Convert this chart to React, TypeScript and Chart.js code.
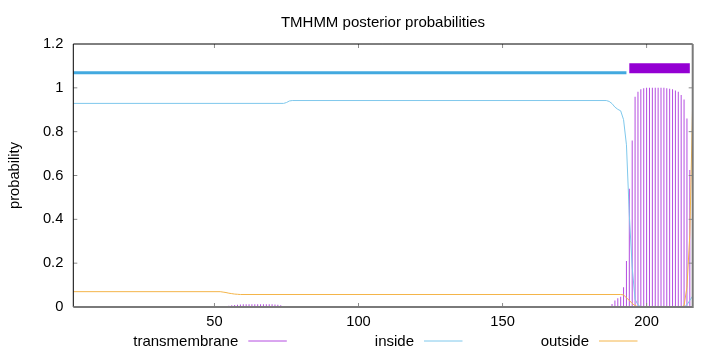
import React, { useEffect, useRef } from 'react';
import { Chart, registerables } from 'chart.js';

Chart.register(...registerables);

// ---------------- data ----------------
const TITLE = 'TMHMM posterior probabilities';
const Y_LABEL = 'probability';
const X_MIN = 1;
const X_MAX = 216;
const X_TICKS = [50, 100, 150, 200];
const Y_TICKS = [0, 0.2, 0.4, 0.6, 0.8, 1, 1.2];
const Y_TICK_LABELS = ['0', '0.2', '0.4', '0.6', '0.8', '1', '1.2'];
const LEGEND_LABELS = ['transmembrane', 'inside', 'outside'];

// transmembrane posterior (impulses), only non-zero residues
const TM_RESIDUES = [
  53, 54, 55, 56, 57, 58, 59, 60, 61, 62, 63, 64, 65, 66, 67, 68, 69, 70, 71, 72, 73, 74,
  187, 188, 189, 190, 191, 192, 193, 194, 195, 196, 197, 198, 199, 200, 201, 202, 203, 204,
  205, 206, 207, 208, 209, 210, 211, 212, 213, 214, 215, 216,
];
const TM_VALUES = [
  0.002, 0.004, 0.006, 0.008, 0.009, 0.01, 0.011, 0.012, 0.012, 0.012, 0.012, 0.012, 0.012,
  0.012, 0.012, 0.012, 0.012, 0.012, 0.011, 0.01, 0.008, 0.005,
  0.005, 0.014, 0.03, 0.04, 0.047, 0.09, 0.21, 0.54, 0.76, 0.959, 0.982, 0.993, 0.998, 1.0,
  1.0, 1.0, 1.0, 1.0, 1.0, 1.0, 0.998, 0.996, 0.993, 0.988, 0.982, 0.967, 0.947, 0.86, 0.625,
  0.01,
];

// inside posterior (line)
const INSIDE_RESIDUES = [1, 74, 75, 76, 77, 186, 187, 188, 189, 190, 191, 192, 193, 194, 195, 196, 197, 198, 213, 214, 215, 216];
const INSIDE_VALUES = [0.929, 0.929, 0.933, 0.94, 0.942, 0.942, 0.938, 0.928, 0.912, 0.902, 0.895, 0.855, 0.74, 0.42, 0.18, 0.035, 0.01, 0, 0, 0.01, 0.03, 0.05];

// outside posterior (line)
const OUTSIDE_RESIDUES = [1, 52, 53, 54, 55, 56, 57, 58, 59, 191, 192, 193, 194, 195, 196, 197, 198, 212, 213, 214, 215, 216];
const OUTSIDE_VALUES = [0.07, 0.07, 0.068, 0.066, 0.063, 0.061, 0.059, 0.058, 0.057, 0.057, 0.055, 0.042, 0.03, 0.016, 0.006, 0.001, 0, 0, 0.006, 0.09, 0.33, 0.94];

// predicted topology bars drawn above the curves
const REGION_INSIDE = [1, 193];
const REGION_INSIDE_LEVEL = 1.069;
const REGION_TM = [194, 215];
const REGION_TM_LEVEL = 1.089;

// ---------------- styles ----------------
const FONT = 'Liberation Sans';
const TM_COLOR = 'rgba(148,0,211,0.7)';
const TM_BOX_COLOR = '#9400d3';
const INSIDE_COLOR = '#7fc8ec';
const INSIDE_BAR_COLOR = '#42a9df';
const OUTSIDE_COLOR = '#f4b54a';

const decorPlugin = {
  id: 'decor',
  afterDraw(chart: any) {
    const { ctx, chartArea: a, scales } = chart;
    const xs = scales.x;
    const ys = scales.y;
    ctx.save();
    // inward tick marks
    ctx.strokeStyle = '#8a8a8a';
    ctx.lineWidth = 1;
    ctx.beginPath();
    for (const v of Y_TICKS) {
      if (v <= 0 || v >= 1.2) continue;
      const py = ys.getPixelForValue(v);
      ctx.moveTo(a.left, py);
      ctx.lineTo(a.left + 4, py);
      ctx.moveTo(a.right, py);
      ctx.lineTo(a.right - 4, py);
    }
    for (const v of X_TICKS) {
      const px = xs.getPixelForValue(v);
      ctx.moveTo(px, a.bottom);
      ctx.lineTo(px, a.bottom - 4);
      ctx.moveTo(px, a.top);
      ctx.lineTo(px, a.top + 4);
    }
    ctx.stroke();
    // frame
    ctx.strokeStyle = '#000';
    ctx.lineWidth = 1;
    ctx.beginPath();
    ctx.moveTo(a.left, a.bottom);
    ctx.lineTo(a.left, a.top);
    ctx.lineTo(a.right, a.top);
    ctx.stroke();
    ctx.strokeStyle = '#7a7a7a';
    ctx.lineWidth = 2;
    ctx.beginPath();
    ctx.moveTo(a.right, a.top);
    ctx.lineTo(a.right, a.bottom);
    ctx.lineTo(a.left, a.bottom);
    ctx.stroke();
    // title
    ctx.fillStyle = '#000';
    ctx.font = `15px "${FONT}"`;
    ctx.textAlign = 'center';
    ctx.textBaseline = 'alphabetic';
    ctx.fillText(TITLE, (a.left + a.right) / 2, 26.5);
    // legend (text followed by sample line)
    const lineStarts = [248.3, 424, 599];
    const colors = [TM_COLOR, INSIDE_COLOR, OUTSIDE_COLOR];
    ctx.font = `15px "${FONT}"`;
    ctx.textAlign = 'right';
    LEGEND_LABELS.forEach((label, i) => {
      const x0 = lineStarts[i];
      ctx.fillStyle = '#000';
      ctx.fillText(label, x0 - 10, 346);
      ctx.strokeStyle = colors[i];
      ctx.lineWidth = 1;
      ctx.beginPath();
      ctx.moveTo(x0, 341);
      ctx.lineTo(x0 + 38.5, 341);
      ctx.stroke();
    });
    ctx.restore();
  },
};

export default function App() {
  const ref = useRef<HTMLCanvasElement>(null);
  useEffect(() => {
    const canvas = ref.current;
    if (!canvas) return;
    const chart = new Chart(canvas, {
      type: 'line',
      data: {
        datasets: [
          {
            label: 'tm-region',
            data: REGION_TM.map((r) => ({ x: r, y: REGION_TM_LEVEL })),
            borderColor: TM_BOX_COLOR,
            borderWidth: 10,
            borderCapStyle: 'butt',
            pointRadius: 0,
            tension: 0,
            order: 0,
          },
          {
            label: 'inside-region',
            data: REGION_INSIDE.map((r) => ({ x: r, y: REGION_INSIDE_LEVEL })),
            borderColor: INSIDE_BAR_COLOR,
            borderWidth: 3,
            borderCapStyle: 'butt',
            pointRadius: 0,
            tension: 0,
            order: 0,
          },
          {
            label: 'inside',
            data: INSIDE_RESIDUES.map((r, i) => ({ x: r, y: INSIDE_VALUES[i] })),
            borderColor: INSIDE_COLOR,
            borderWidth: 1,
            pointRadius: 0,
            tension: 0,
            order: 1,
          },
          {
            label: 'outside',
            data: OUTSIDE_RESIDUES.map((r, i) => ({ x: r, y: OUTSIDE_VALUES[i] })),
            borderColor: OUTSIDE_COLOR,
            borderWidth: 1,
            pointRadius: 0,
            tension: 0,
            order: 1,
          },
          {
            type: 'bar',
            label: 'transmembrane',
            data: TM_RESIDUES.map((r, i) => ({ x: r, y: TM_VALUES[i] })),
            backgroundColor: TM_COLOR,
            borderWidth: 0,
            barThickness: 1,
            inflateAmount: 0,
            grouped: false,
            order: 3,
          } as any,
        ],
      },
      options: {
        responsive: false,
        animation: false,
        events: [],
        layout: { padding: { top: 44, right: 27.3, bottom: 0, left: 0 } },
        plugins: {
          legend: { display: false },
          title: { display: false },
          tooltip: { enabled: false },
        },
        scales: {
          x: {
            type: 'linear',
            min: X_MIN,
            max: X_MAX,
            offset: false,
            afterBuildTicks: (s: any) => {
              s.ticks = X_TICKS.map((v) => ({ value: v }));
            },
            afterFit: (s: any) => {
              s.height = 45;
            },
            grid: { display: false, drawTicks: false },
            border: { display: false },
            ticks: {
              padding: 6,
              color: '#000',
              maxRotation: 0,
              autoSkip: false,
              font: { family: FONT, size: 14.7 },
              callback: (v: any) => String(v),
            },
          },
          y: {
            type: 'linear',
            min: 0,
            max: 1.2,
            afterBuildTicks: (s: any) => {
              s.ticks = Y_TICKS.map((v) => ({ value: v }));
            },
            afterFit: (s: any) => {
              s.width = 73.3;
            },
            grid: { display: false, drawTicks: false },
            border: { display: false },
            ticks: {
              padding: 10,
              color: '#000',
              autoSkip: false,
              font: { family: FONT, size: 14.7 },
              callback: (v: any) => {
                const i = Y_TICKS.indexOf(v);
                return i >= 0 ? Y_TICK_LABELS[i] : String(v);
              },
            },
            title: {
              display: true,
              text: Y_LABEL,
              color: '#000',
              font: { family: FONT, size: 14.7 },
              padding: { top: 6.5, bottom: 0 },
            },
          },
        },
      },
      plugins: [decorPlugin],
    } as any);
    return () => chart.destroy();
  }, []);
  return (
    <div style={{ position: 'fixed', left: 0, top: 0, width: 720, height: 352, background: '#fff' }}>
      <canvas ref={ref} width={720} height={352} style={{ display: 'block' }} />
    </div>
  );
}
